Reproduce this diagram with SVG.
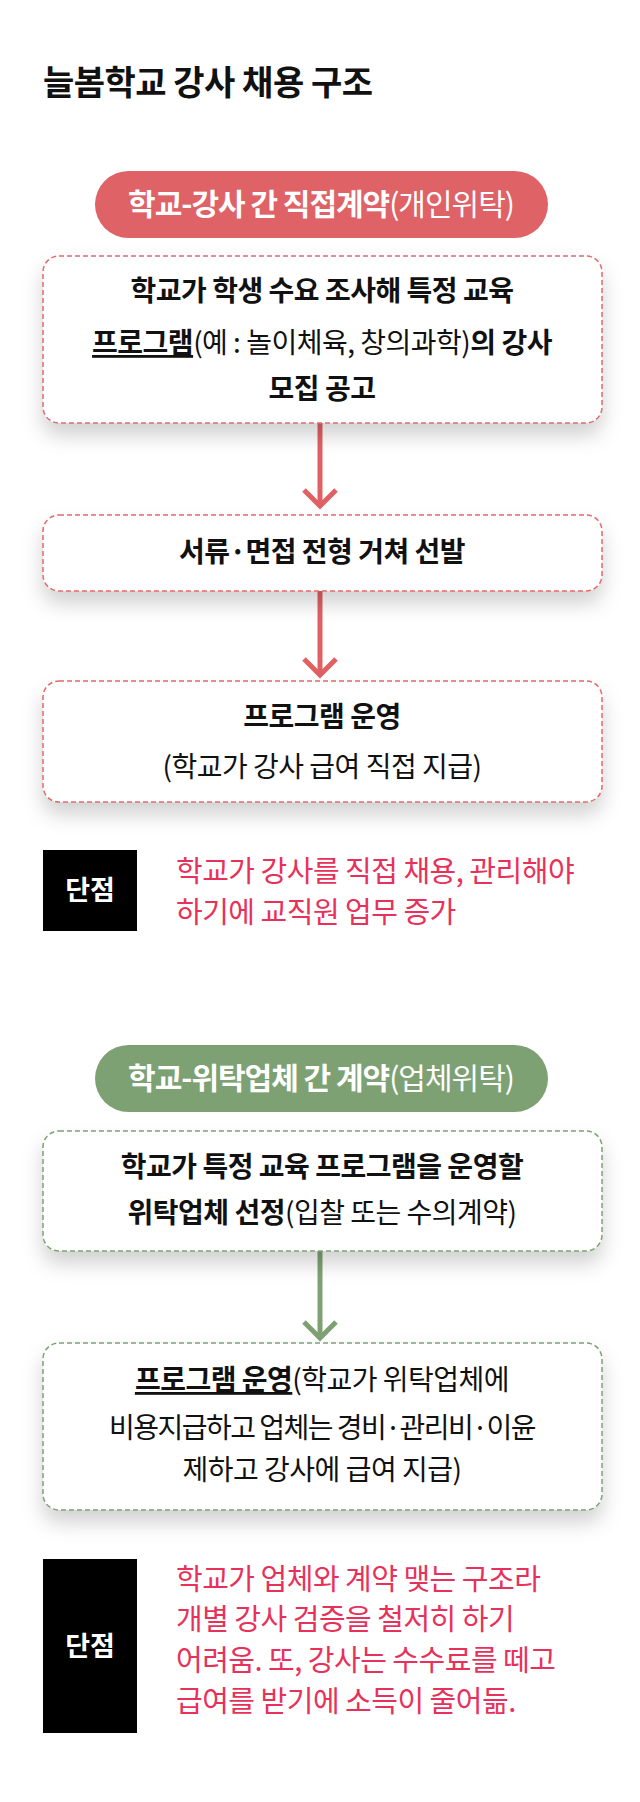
<svg xmlns="http://www.w3.org/2000/svg" width="640" height="1802" viewBox="0 0 640 1802">
<defs>
<filter id="sh" x="-10%" y="-20%" width="120%" height="160%"><feDropShadow dx="0" dy="12" stdDeviation="10" flood-color="#000" flood-opacity="0.18"/></filter>
</defs>
<style>
text{font-family:"Noto Sans CJK KR","Noto Sans",sans-serif;text-anchor:middle}
.t{font-size:28px;fill:#111;letter-spacing:-0.5px}
.b{font-weight:700}
.u{text-decoration:underline}
.rb{fill:#fff;stroke:#e06a6c;stroke-width:1.5;stroke-dasharray:5 3}
.gb{fill:#fff;stroke:#7ea173;stroke-width:1.5;stroke-dasharray:5 3}
.pill{font-size:30px;fill:#fff;letter-spacing:-1px}
.neg{fill:#e8315a;font-size:29px;text-anchor:start;letter-spacing:-0.5px}
</style>
<rect width="640" height="1802" fill="#fff"/>
<text x="43" y="95" style="text-anchor:start;font-size:34px;font-weight:700;letter-spacing:-0.5px" fill="#111">늘봄학교 강사 채용 구조</text>

<g id="connectors">
<g stroke="#e06064" stroke-width="5" fill="none">
<line x1="320" y1="423" x2="320" y2="506"/><polyline points="304,490 320,506 336,490"/>
<line x1="320" y1="591" x2="320" y2="675"/><polyline points="304,659 320,675 336,659"/>
</g>
<g stroke="#7ea173" stroke-width="5" fill="none">
<line x1="320" y1="1251" x2="320" y2="1338"/><polyline points="304,1322 320,1338 336,1322"/>
</g>
</g>

<g id="pill1"><rect x="95" y="171" width="453" height="67" rx="33.5" fill="#df6266"/>
<text x="321" y="215" class="pill"><tspan class="b">학교-강사 간 직접계약</tspan>(개인위탁)</text></g>

<g id="box1"><rect x="43" y="256" width="559" height="167" rx="16" class="rb" filter="url(#sh)"/>
<text x="322" y="301" class="t b">학교가 학생 수요 조사해 특정 교육</text>
<text x="322" y="353" class="t"><tspan class="b u">프로그램</tspan>(예 : 놀이체육, 창의과학)<tspan class="b">의 강사</tspan></text>
<text x="322" y="399" class="t b">모집 공고</text></g>

<g id="box2"><rect x="43" y="515" width="559" height="76" rx="16" class="rb" filter="url(#sh)"/>
<text x="322" y="562" class="t b">서류·면접 전형 거쳐 선발</text></g>

<g id="box3"><rect x="43" y="681" width="559" height="121" rx="16" class="rb" filter="url(#sh)"/>
<text x="322" y="727" class="t b">프로그램 운영</text>
<text x="322" y="777" class="t">(학교가 강사 급여 직접 지급)</text></g>

<g id="con1"><rect x="43" y="850" width="94" height="81" fill="#000"/>
<text x="90" y="900" style="font-size:27px;font-weight:700" fill="#fff">단점</text>
<text x="176" y="882" class="neg">학교가 강사를 직접 채용, 관리해야</text>
<text x="176" y="923" class="neg">하기에 교직원 업무 증가</text></g>

<g id="pill2"><rect x="95" y="1045" width="453" height="67" rx="33.5" fill="#7ea173"/>
<text x="321" y="1089" class="pill"><tspan class="b">학교-위탁업체 간 계약</tspan>(업체위탁)</text></g>

<g id="box4"><rect x="43" y="1131" width="559" height="120" rx="16" class="gb" filter="url(#sh)"/>
<text x="322" y="1177" class="t b">학교가 특정 교육 프로그램을 운영할</text>
<text x="322" y="1223" class="t"><tspan class="b">위탁업체 선정</tspan>(입찰 또는 수의계약)</text></g>

<g id="box5"><rect x="43" y="1343" width="559" height="167" rx="16" class="gb" filter="url(#sh)"/>
<text x="322" y="1390" class="t"><tspan class="b u">프로그램 운영</tspan>(학교가 위탁업체에</text>
<text x="322" y="1438" class="t" style="letter-spacing:-1.5px">비용지급하고 업체는 경비·관리비·이윤</text>
<text x="322" y="1480" class="t">제하고 강사에 급여 지급)</text></g>

<g id="con2"><rect x="43" y="1559" width="94" height="174" fill="#000"/>
<text x="90" y="1656" style="font-size:27px;font-weight:700" fill="#fff">단점</text>
<text x="176" y="1590" class="neg">학교가 업체와 계약 맺는 구조라</text>
<text x="176" y="1630" class="neg">개별 강사 검증을 철저히 하기</text>
<text x="176" y="1671" class="neg">어려움. 또, 강사는 수수료를 떼고</text>
<text x="176" y="1712" class="neg">급여를 받기에 소득이 줄어듦.</text></g>
</svg>
